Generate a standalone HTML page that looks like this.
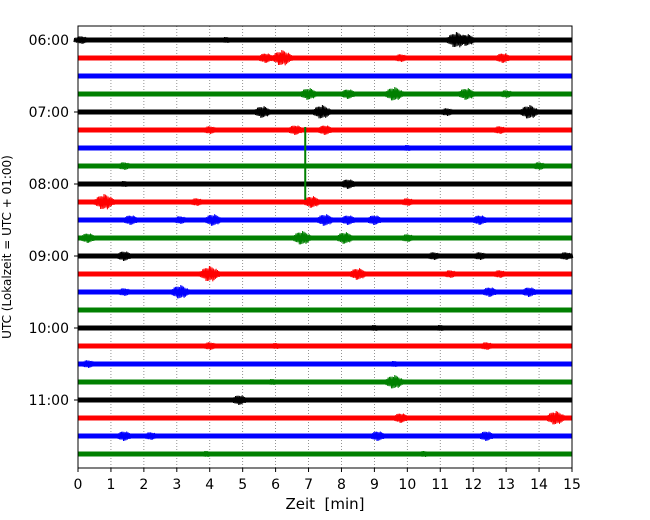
<!DOCTYPE html>
<html><head><meta charset="utf-8">
<style>
html,body{margin:0;padding:0;background:#fff;}
svg{display:block;font-family:"DejaVu Sans","Liberation Sans",sans-serif;}
</style></head>
<body>
<svg id="chart" width="650" height="520" viewBox="0 0 650 520">
<g id="grid"></g>
<g id="traces"></g>
<rect x="78" y="26" width="494" height="442" fill="none" stroke="#000" stroke-width="1"/>
<g id="axes"></g>
<text x="11" y="247" transform="rotate(-90 11 247)" text-anchor="middle" font-size="12">UTC (Lokalzeit = UTC + 01:00)</text>
<text x="325" y="509" text-anchor="middle" font-size="15" style="white-space:pre">Zeit  [min]</text>
</svg>
<script>
const traceColors = ["#000000","#ff0000","#0000ff","#008000"];
const traceCount = 24;
const hourLabels = ["06:00","07:00","08:00","09:00","10:00","11:00"];
const xTicks = [0,1,2,3,4,5,6,7,8,9,10,11,12,13,14,15];
const eventTrace =  [0,0,0,0,1,1,1,1,3,3,3,3,3,4,4,4,4,5,5,5,5,6,7,7,8,8,9,9,9,9,10,10,10,10,10,10,10,11,11,11,11,12,12,12,12,13,13,13,13,14,14,14,14,16,16,17,17,17,18,18,19,19,20,21,21,22,22,22,22,23,23];
const eventMinute = [0.1,11.5,11.8,4.5,6.2,5.7,9.8,12.9,7.0,8.2,9.6,11.8,13.0,5.6,7.4,11.2,13.7,4.0,6.6,7.5,12.8,10.0,1.4,14.0,1.4,8.2,0.8,3.6,7.1,10.0,1.6,3.1,4.1,7.5,8.2,9.0,12.2,0.3,6.8,8.1,10.0,1.4,10.8,12.2,14.8,4.0,8.5,11.3,12.8,1.4,3.1,12.5,13.7,9.0,11.0,4.0,6.0,12.4,0.3,9.6,9.6,5.9,4.9,9.8,14.5,1.4,2.2,9.1,12.4,3.9,10.5];
const eventAmp =    [4,8,6,3,8,5,4,5,6,5,7,6,4,6,7,4,7,4,5,5,4,3,4,4,3,5,8,4,6,4,5,4,6,6,5,5,5,5,7,6,4,5,4,4,4,8,6,4,4,4,7,5,5,3,3,4,3,4,4,3,7,3,5,5,7,5,4,5,5,3,3];
const spikeTrace = [7];
const spikeMinute = [6.9];
const spikeUp = [39];
const spikeDown = [34];

const NS = "http://www.w3.org/2000/svg";
const X0=78, X1=572, XMAX=15;
const xs = m => X0 + (m/XMAX)*(X1-X0);
const ys = i => 40 + i*18;

const grid = document.getElementById('grid');
xTicks.forEach(t=>{
  if(t===0||t===15) return;
  const l=document.createElementNS(NS,'line');
  l.setAttribute('x1',xs(t));l.setAttribute('x2',xs(t));
  l.setAttribute('y1',26);l.setAttribute('y2',468);
  l.setAttribute('stroke','#777');l.setAttribute('stroke-width','0.8');
  l.setAttribute('stroke-dasharray','1,2');
  
  
  grid.appendChild(l);
});

const tr = document.getElementById('traces');
for(let i=0;i<traceCount;i++){
  const c = traceColors[i%4];
  const r=document.createElementNS(NS,'rect');
  r.setAttribute('x',X0);r.setAttribute('y',ys(i)-2.5);
  r.setAttribute('width',X1-X0);r.setAttribute('height',5);
  r.setAttribute('fill',c);
  
  
  tr.appendChild(r);
}
eventTrace.forEach((ti,k)=>{
  const c = traceColors[ti%4];
  const cx = xs(eventMinute[k]), cy = ys(ti), a = eventAmp[k];
  let d='';
  const w=6+a*2.2, n=Math.round(w*1.5);
  for(let j=0;j<=n;j++){
    const f=j/n, env=Math.pow(Math.sin(Math.PI*f),1.5)*(0.6+0.4*((j*7)%5)/4);
    const px=cx-w/2+f*w, py=cy+(j%2?-1:1)*(2+(a-2)*env);
    d+=(j?'L':'M')+px.toFixed(1)+' '+py.toFixed(1);
  }
  const p=document.createElementNS(NS,'path');
  p.setAttribute('d',d);p.setAttribute('stroke',c);p.setAttribute('fill','none');
  p.setAttribute('stroke-width','1');
  
  
  tr.appendChild(p);
});
spikeTrace.forEach((ti,k)=>{
  const l=document.createElementNS(NS,'line');
  const x=xs(spikeMinute[k]);
  l.setAttribute('x1',x);l.setAttribute('x2',x);
  l.setAttribute('y1',ys(ti)-spikeUp[k]);l.setAttribute('y2',ys(ti)+spikeDown[k]);
  l.setAttribute('stroke',traceColors[ti%4]);l.setAttribute('stroke-width','2');
  
  
  tr.appendChild(l);
});

const ax = document.getElementById('axes');
xTicks.forEach(t=>{
  const l=document.createElementNS(NS,'line');
  l.setAttribute('x1',xs(t));l.setAttribute('x2',xs(t));
  l.setAttribute('y1',468);l.setAttribute('y2',472);l.setAttribute('stroke','#000');
  
  
  ax.appendChild(l);
  const tx=document.createElementNS(NS,'text');
  tx.setAttribute('x',xs(t));tx.setAttribute('y',489);
  tx.setAttribute('text-anchor','middle');tx.setAttribute('font-size','14');
  tx.textContent=t;
  
  
  ax.appendChild(tx);
});
hourLabels.forEach((h,k)=>{
  const y=ys(k*4);
  const l=document.createElementNS(NS,'line');
  l.setAttribute('x1',74);l.setAttribute('x2',78);
  l.setAttribute('y1',y);l.setAttribute('y2',y);l.setAttribute('stroke','#000');
  
  
  ax.appendChild(l);
  const tx=document.createElementNS(NS,'text');
  tx.setAttribute('x',69);tx.setAttribute('y',y+5);
  tx.setAttribute('text-anchor','end');tx.setAttribute('font-size','14');
  tx.textContent=h;
  
  
  ax.appendChild(tx);
});
</script>
</body></html>
